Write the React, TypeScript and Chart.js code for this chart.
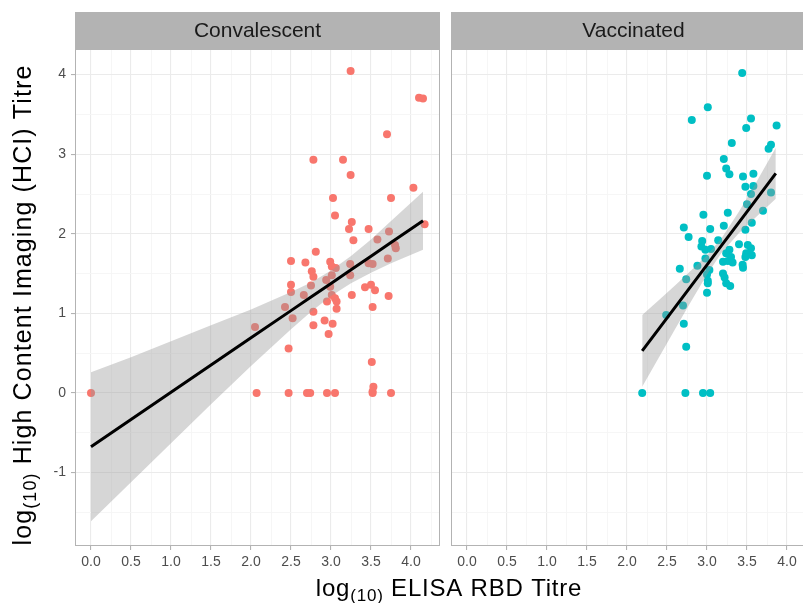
import React, { useEffect, useRef } from "react";
import { Chart, registerables } from "chart.js";

Chart.register(...registerables);

// ---------------- data ----------------
const panelTitles = ["Convalescent", "Vaccinated"];

const convX = [0.0, 3.245, 4.1, 4.15, 3.7, 2.78, 3.15, 3.245, 4.03, 3.025, 3.75, 3.05, 3.26, 3.225, 3.47, 3.725, 4.17, 3.28, 3.58, 3.8, 3.81, 2.81, 2.5, 2.68, 2.99, 3.71, 2.76, 3.01, 3.06, 3.24, 3.47, 3.52, 2.78, 3.01, 3.24, 2.94, 2.5, 2.75, 2.99, 2.5, 2.66, 3.425, 3.5, 3.55, 3.26, 3.72, 3.01, 3.05, 2.95, 3.07, 2.425, 3.07, 3.52, 2.78, 2.52, 2.05, 2.92, 3.02, 2.78, 2.97, 2.47, 3.51, 3.53, 3.52, 2.07, 2.47, 2.7, 2.74, 2.95, 3.05, 3.52, 3.75];
const convY = [0.0, 4.045, 3.71, 3.7, 3.25, 2.93, 2.93, 2.74, 2.58, 2.45, 2.45, 2.23, 2.15, 2.06, 2.06, 2.03, 2.12, 1.92, 1.93, 1.86, 1.82, 1.775, 1.66, 1.64, 1.65, 1.69, 1.53, 1.59, 1.57, 1.62, 1.63, 1.62, 1.46, 1.48, 1.48, 1.42, 1.36, 1.35, 1.335, 1.27, 1.23, 1.33, 1.36, 1.29, 1.23, 1.22, 1.23, 1.19, 1.15, 1.15, 1.08, 1.06, 1.08, 1.02, 0.94, 0.83, 0.91, 0.87, 0.85, 0.74, 0.56, 0.39, 0.08, 0.02, 0, 0, 0, 0, 0, 0, 0, 0];

const vaccX = [3.44, 3.01, 2.81, 3.55, 3.49, 3.87, 3.31, 3.8, 3.77, 3.21, 3.24, 3.28, 3.0, 3.45, 3.58, 3.48, 3.58, 3.55, 3.8, 3.5, 3.7, 2.955, 3.26, 3.56, 2.71, 3.04, 3.21, 3.48, 2.77, 2.94, 3.14, 2.93, 2.98, 3.05, 3.28, 3.24, 3.3, 3.4, 3.51, 3.55, 3.49, 3.56, 3.48, 2.98, 3.2, 3.26, 3.32, 2.88, 3.445, 3.45, 2.66, 3.03, 3.0, 3.2, 3.22, 2.74, 3.01, 3.01, 3.24, 3.29, 3.0, 2.7, 2.49, 2.71, 2.74, 2.19, 2.73, 2.95, 3.04];
const vaccY = [4.02, 3.59, 3.43, 3.45, 3.33, 3.36, 3.14, 3.12, 3.07, 2.94, 2.82, 2.75, 2.73, 2.72, 2.755, 2.59, 2.6, 2.5, 2.52, 2.37, 2.29, 2.24, 2.265, 2.14, 2.08, 2.06, 2.1, 2.05, 1.96, 1.91, 1.92, 1.84, 1.8, 1.81, 1.8, 1.755, 1.71, 1.87, 1.86, 1.82, 1.755, 1.73, 1.71, 1.69, 1.65, 1.66, 1.64, 1.6, 1.61, 1.575, 1.56, 1.545, 1.49, 1.5, 1.45, 1.43, 1.41, 1.38, 1.38, 1.345, 1.26, 1.1, 0.98, 0.87, 0.58, 0, 0, 0, 0];

// fitted line and confidence band
const convFitX = [0, 0.5, 1, 1.5, 2, 2.5, 2.75, 3, 3.25, 3.5, 3.75, 4.15];
const convFitY = [-0.675, -0.333, 0.009, 0.351, 0.693, 1.035, 1.206, 1.377, 1.548, 1.719, 1.89, 2.164];
const convFitLo = [-1.61, -1.12, -0.63, -0.14, 0.34, 0.8, 1.02, 1.22, 1.38, 1.51, 1.63, 1.8];
const convFitHi = [0.26, 0.45, 0.65, 0.85, 1.05, 1.27, 1.39, 1.54, 1.72, 1.93, 2.16, 2.53];

const vaccFitX = [2.19, 2.4, 2.6, 2.8, 3.0, 3.18, 3.4, 3.6, 3.86];
const vaccFitY = [0.53, 0.81, 1.077, 1.344, 1.611, 1.851, 2.145, 2.412, 2.759];
const vaccFitLo = [0.08, 0.45, 0.8, 1.15, 1.49, 1.76, 2.01, 2.2, 2.44];
const vaccFitHi = [0.98, 1.17, 1.35, 1.54, 1.73, 1.94, 2.28, 2.62, 3.08];

// axes
const xMajorTicks = [0, 0.5, 1, 1.5, 2, 2.5, 3, 3.5, 4];
const xMinorTicks = [0.25, 0.75, 1.25, 1.75, 2.25, 2.75, 3.25, 3.75, 4.25];
const yMajorTicks = [-1, 0, 1, 2, 3, 4];
const yMinorTicks = [-1.5, -0.5, 0.5, 1.5, 2.5, 3.5];
const xRange = [-0.2, 4.3625];
const yRange = [-1.922, 4.322];

const xTitleRest = " ELISA RBD Titre";
const yTitleRest = " High Content Imaging (HCI) Titre";

// ---------------- styling ----------------
const FONT = "'Liberation Sans', Arial, Helvetica, sans-serif";
const COLORS = ["#F8766D", "#00BFC4"];
const RIBBON = "rgba(153,153,153,0.4)";
const GRID_MAJOR = "#EBEBEB";
const GRID_MINOR = "#F5F5F5";
const BORDER = "#B3B3B3";
const STRIP = "#B3B3B3";

const isMajorIn = (list: number[]) => (v: number) =>
  list.some((m) => Math.abs(m - v) < 1e-6);
const isMajorX = isMajorIn(xMajorTicks);
const isMajorY = isMajorIn(yMajorTicks);

function toPts(xs: number[], ys: number[]) {
  return xs.map((x, i) => ({ x, y: ys[i] }));
}

type Seg = { text: string; size: number; dy: number };

function drawSegs(ctx: CanvasRenderingContext2D, segs: Seg[], spacing: string) {
  const anyCtx = ctx as any;
  anyCtx.letterSpacing = spacing;
  const widths = segs.map((s) => {
    ctx.font = `${s.size}px ${FONT}`;
    return ctx.measureText(s.text).width;
  });
  const total = widths.reduce((a, b) => a + b, 0);
  let x = -total / 2;
  ctx.textAlign = "left";
  ctx.textBaseline = "alphabetic";
  segs.forEach((s, i) => {
    ctx.font = `${s.size}px ${FONT}`;
    ctx.fillText(s.text, x, s.dy);
    x += widths[i];
  });
}

function makePanelPlugin(title: string, drawTitles: boolean) {
  return {
    id: "panelDeco" + title,
    beforeDraw(chart: any) {
      const { ctx, chartArea } = chart;
      ctx.save();
      ctx.fillStyle = STRIP;
      ctx.fillRect(chartArea.left, 12, chartArea.right - chartArea.left, chartArea.top - 12);
      ctx.fillStyle = "#1A1A1A";
      ctx.font = `21px ${FONT}`;
      ctx.textAlign = "center";
      ctx.textBaseline = "middle";
      ctx.fillText(title, (chartArea.left + chartArea.right) / 2, (12 + chartArea.top) / 2 + 1);
      ctx.restore();
    },
    afterDraw(chart: any) {
      const { ctx, chartArea } = chart;
      ctx.save();
      ctx.strokeStyle = BORDER;
      ctx.lineWidth = 1;
      ctx.strokeRect(
        chartArea.left + 0.5,
        chartArea.top + 0.5,
        chartArea.right - chartArea.left - 1,
        chartArea.bottom - chartArea.top - 1
      );
      if (drawTitles) {
        ctx.fillStyle = "#000000";
        // x axis title
        ctx.save();
        ctx.translate(449, 596);
        drawSegs(
          ctx,
          [
            { text: "log", size: 24, dy: 0 },
            { text: "(10)", size: 17, dy: 5 },
            { text: xTitleRest, size: 24, dy: 0 },
          ],
          "0.8px"
        );
        ctx.restore();
        // y axis title
        ctx.save();
        ctx.translate(31, 305);
        ctx.rotate(-Math.PI / 2);
        drawSegs(
          ctx,
          [
            { text: "log", size: 25, dy: 0 },
            { text: "(10)", size: 18, dy: 5 },
            { text: yTitleRest, size: 25, dy: 0 },
          ],
          "1.1px"
        );
        ctx.restore();
      }
      ctx.restore();
    },
  };
}

function makeConfig(idx: number): any {
  const isLeft = idx === 0;
  const px = isLeft ? convX : vaccX;
  const py = isLeft ? convY : vaccY;
  const fx = isLeft ? convFitX : vaccFitX;
  const fy = isLeft ? convFitY : vaccFitY;
  const flo = isLeft ? convFitLo : vaccFitLo;
  const fhi = isLeft ? convFitHi : vaccFitHi;

  const tickFont = { family: FONT, size: 14 };

  return {
    type: "scatter",
    data: {
      datasets: [
        {
          type: "scatter",
          data: toPts(px, py),
          backgroundColor: COLORS[idx],
          borderWidth: 0,
          pointRadius: 4,
          pointHoverRadius: 4,
          order: 3,
        },
        {
          type: "line",
          data: toPts(fx, fhi),
          borderWidth: 0,
          borderColor: "rgba(0,0,0,0)",
          backgroundColor: RIBBON,
          pointRadius: 0,
          fill: "+1",
          tension: 0,
          order: 2,
        },
        {
          type: "line",
          data: toPts(fx, flo),
          borderWidth: 0,
          borderColor: "rgba(0,0,0,0)",
          backgroundColor: RIBBON,
          pointRadius: 0,
          fill: false,
          tension: 0,
          order: 2,
        },
        {
          type: "line",
          data: toPts(fx, fy),
          borderWidth: 3,
          borderColor: "#000000",
          pointRadius: 0,
          fill: false,
          tension: 0,
          order: 1,
        },
      ],
    },
    options: {
      responsive: false,
      animation: false,
      events: [],
      layout: {
        autoPadding: false,
        padding: isLeft
          ? { top: 49, right: 363, bottom: 0, left: 0 }
          : { top: 49, right: 4, bottom: 0, left: 6 },
      },
      plugins: {
        legend: { display: false },
        tooltip: { enabled: false },
        title: { display: false },
      },
      scales: {
        x: {
          type: "linear",
          min: xRange[0],
          max: xRange[1],
          afterBuildTicks: (s: any) => {
            s.ticks = [...xMajorTicks, ...xMinorTicks]
              .sort((a, b) => a - b)
              .map((v) => ({ value: v }));
          },
          afterFit: (s: any) => {
            s.height = 57;
          },
          ticks: {
            autoSkip: false,
            maxRotation: 0,
            minRotation: 0,
            color: "#4D4D4D",
            font: tickFont,
            padding: 4,
            callback: (v: any) => (isMajorX(Number(v)) ? Number(v).toFixed(1) : ""),
          },
          grid: {
            color: (c: any) => (c.tick && isMajorX(c.tick.value) ? GRID_MAJOR : GRID_MINOR),
            lineWidth: (c: any) => (c.tick && isMajorX(c.tick.value) ? 1.1 : 0.9),
            tickColor: (c: any) => (c.tick && isMajorX(c.tick.value) ? BORDER : "rgba(0,0,0,0)"),
            tickLength: 4,
            drawTicks: true,
          },
          border: { display: false },
        },
        y: {
          type: "linear",
          min: yRange[0],
          max: yRange[1],
          afterBuildTicks: (s: any) => {
            s.ticks = [...yMajorTicks, ...yMinorTicks]
              .sort((a, b) => a - b)
              .map((v) => ({ value: v }));
          },
          afterFit: (s: any) => {
            s.width = isLeft ? 75 : 0;
          },
          ticks: {
            display: isLeft,
            autoSkip: false,
            color: "#4D4D4D",
            font: tickFont,
            padding: 5,
            callback: (v: any) => (isMajorY(Number(v)) ? String(Number(v)) : ""),
          },
          grid: {
            color: (c: any) => (c.tick && isMajorY(c.tick.value) ? GRID_MAJOR : GRID_MINOR),
            lineWidth: (c: any) => (c.tick && isMajorY(c.tick.value) ? 1.1 : 0.9),
            tickColor: (c: any) => (c.tick && isMajorY(c.tick.value) ? BORDER : "rgba(0,0,0,0)"),
            tickLength: isLeft ? 4 : 0,
            drawTicks: isLeft,
          },
          border: { display: false },
        },
      },
    },
    plugins: [makePanelPlugin(panelTitles[idx], isLeft)],
  };
}

export default function App() {
  const leftRef = useRef<HTMLCanvasElement | null>(null);
  const rightRef = useRef<HTMLCanvasElement | null>(null);

  useEffect(() => {
    const charts: Chart[] = [];
    if (leftRef.current) charts.push(new Chart(leftRef.current, makeConfig(0)));
    if (rightRef.current) charts.push(new Chart(rightRef.current, makeConfig(1)));
    return () => charts.forEach((c) => c.destroy());
  }, []);

  return (
    <div
      style={{
        position: "absolute",
        left: 0,
        top: 0,
        width: 803,
        height: 603,
        overflow: "hidden",
        background: "#FFFFFF",
      }}
    >
      <canvas
        ref={leftRef}
        width={803}
        height={603}
        style={{ position: "absolute", left: 0, top: 0, width: 803, height: 603 }}
      />
      <canvas
        ref={rightRef}
        width={375}
        height={603}
        style={{ position: "absolute", left: 445, top: 0, width: 375, height: 603 }}
      />
    </div>
  );
}
